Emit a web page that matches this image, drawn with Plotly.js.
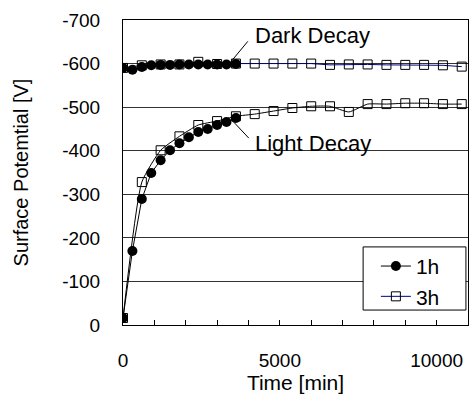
<!DOCTYPE html>
<html>
<head>
<meta charset="utf-8">
<script src="https://cdn.plot.ly/plotly-3.0.1.min.js"></script>
<style>html,body{margin:0;padding:0;background:#fff;}#chart{width:469px;height:396px;}</style>
</head>
<body>
<div id="chart"></div>
<script>
// Time [min]
const time1h = [0,300,600,900,1200,1500,1800,2100,2400,2700,3000,3300,3600];
const dark1h = [-590,-586,-592,-596,-597,-597,-598,-598,-598,-598,-598,-598,-599];
const light1h = [-16,-170,-289,-349,-378,-401,-417,-431,-443,-450,-459,-466,-475];

const time3h = [0,600,1200,1800,2400,3000,3600,4200,4800,5400,6000,6600,7200,7800,8400,9000,9600,10200,10800];
const dark3h = [-590,-596,-598,-598,-604,-599,-600,-600,-600,-600,-600,-597,-598,-598,-597,-597,-597,-596,-593];
const light3h = [-16,-328,-401,-433,-459,-468,-479,-484,-491,-498,-502,-502,-489,-507,-507,-509,-509,-507,-507];

const yTickVals = [0,-100,-200,-300,-400,-500,-600,-700];
const yTickText = ['0','-100','-200','-300','-400','-500','-600','-700'];
const xTickVals = [0,5000,10000];
const xTickText = ['0','5000','10000'];

const FONT = 'Liberation Sans, Arial, sans-serif';

const traces = [
  {x: time3h, y: dark3h, name: '3h', mode: 'lines+markers', legendrank: 2,
   line: {color: '#000080', width: 1},
   marker: {symbol: 'square-open', size: 9, color: '#000', line: {color: '#000', width: 1}}},
  {x: time3h, y: light3h, name: '3h', mode: 'lines+markers', showlegend: false,
   line: {color: '#000', width: 1, shape: 'spline', smoothing: 0.5},
   marker: {symbol: 'square-open', size: 9, color: '#000', line: {color: '#000', width: 1}}},
  {x: time1h, y: dark1h, name: '1h', mode: 'lines+markers', legendrank: 1,
   line: {color: '#000', width: 1},
   marker: {symbol: 'circle', size: 10, color: '#000'}},
  {x: time1h, y: light1h, name: '1h', mode: 'lines+markers', showlegend: false,
   line: {color: '#000', width: 1},
   marker: {symbol: 'circle', size: 10, color: '#000'}}
];

const layout = {
  width: 469, height: 396,
  margin: {l: 123, r: 1, t: 20, b: 71},
  paper_bgcolor: '#fff', plot_bgcolor: '#fff',
  font: {family: FONT, size: 19, color: '#000'},
  showlegend: true,
  legend: {x: 0.733, y: 0.143, xanchor: 'left', yanchor: 'middle',
           bgcolor: 'rgba(0,0,0,0)', borderwidth: 0,
           font: {family: FONT, size: 21, color: '#000'}},
  xaxis: {
    range: [0, 11000], tickvals: xTickVals, ticktext: xTickText,
    ticks: 'inside', ticklen: 5, tickcolor: '#000',
    minor: {dtick: 1000, tick0: 0, ticks: 'inside', ticklen: 5, tickcolor: '#000', showgrid: false},
    showline: true, linecolor: '#000', linewidth: 1, mirror: true,
    showgrid: false, zeroline: false, ticklabelstandoff: 18,
    tickfont: {family: FONT, size: 19, color: '#000'},
    title: {text: 'Time [min]', font: {family: FONT, size: 21, color: '#000'}, standoff: 4}
  },
  yaxis: {
    range: [0, -700], tickvals: yTickVals, ticktext: yTickText,
    ticks: '', showline: true, linecolor: '#000', linewidth: 1, mirror: true,
    showgrid: true, gridcolor: '#333', gridwidth: 1, zeroline: false,
    ticklabelstandoff: 18,
    tickfont: {family: FONT, size: 19, color: '#000'},
    title: {text: 'Surface Potemtial [V]', font: {family: FONT, size: 20, color: '#000'}, standoff: 28}
  },
  shapes: [
    {type: 'rect', xref: 'paper', yref: 'paper', x0: 0.696, x1: 0.994, y0: 0.049, y1: 0.256,
     fillcolor: '#fff', line: {color: '#000', width: 1}, layer: 'above'},
    {type: 'line', xref: 'x', yref: 'y', x0: 3380, y0: -599, x1: 3980, y1: -651, line: {color: '#000', width: 1}},
    {type: 'line', xref: 'x', yref: 'y', x0: 3500, y0: -468, x1: 4010, y1: -429, line: {color: '#000', width: 1}}
  ],
  annotations: [
    {x: 4150, y: -665, xref: 'x', yref: 'y', text: 'Dark Decay', showarrow: false,
     xanchor: 'left', yanchor: 'middle', font: {family: FONT, size: 22, color: '#000'}},
    {x: 4150, y: -416, xref: 'x', yref: 'y', text: 'Light Decay', showarrow: false,
     xanchor: 'left', yanchor: 'middle', font: {family: FONT, size: 22, color: '#000'}}
  ]
};

Plotly.newPlot('chart', traces, layout, {displayModeBar: false, staticPlot: true});
</script>
</body>
</html>
